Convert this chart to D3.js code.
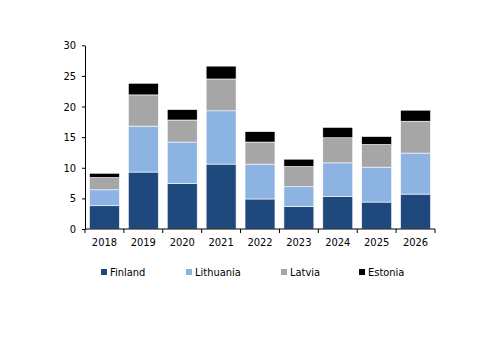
<!DOCTYPE html>
<html>
<head>
<meta charset="utf-8">
<script src="https://cdn.jsdelivr.net/npm/d3@7"></script>
<style>
body{margin:0;background:#fff;}
svg text{font-family:"DejaVu Sans Condensed","DejaVu Sans",sans-serif;font-size:11px;fill:#000;}
</style>
</head>
<body>
<div id="plot"></div>
<script>
// categories and series (segment heights)
var years = ['2018','2019','2020','2021','2022','2023','2024','2025','2026'];
var finland   = [3.8, 9.3, 7.4, 10.6, 4.9, 3.7, 5.3, 4.4, 5.7];
var lithuania = [2.6, 7.5, 6.8, 8.7, 5.7, 3.2, 5.5, 5.7, 6.7];
var latvia    = [2.0, 5.1, 3.6, 5.2, 3.6, 3.3, 4.1, 3.7, 5.2];
var estonia   = [0.7, 1.9, 1.7, 2.1, 1.7, 1.2, 1.7, 1.3, 1.8];
var seriesNames = ['Finland','Lithuania','Latvia','Estonia'];
var yTicks = [0,5,10,15,20,25,30];

var colors = {Finland:'#1f497d', Lithuania:'#8db3e2', Latvia:'#a6a6a6', Estonia:'#000000'};

var W = 500, H = 353;
var margin = {t:45.3, r:65, b:124, l:85};
var width = W-margin.l-margin.r,
	height = H-margin.t-margin.b;

var svg = d3.select('#plot')
	.append('svg')
	.attr('width',W)
	.attr('height',H);

var plot = svg.append('g')
	.attr('transform','translate('+margin.l+','+margin.t+')');

// build table rows for the stack
var rows = years.map(function(y,i){
	return {year:y, Finland:finland[i], Lithuania:lithuania[i], Latvia:latvia[i], Estonia:estonia[i]};
});
var stacked = d3.stack().keys(seriesNames)(rows);

var x = d3.scaleBand().domain(years).range([0,width]).paddingInner(0.23).paddingOuter(0.115);
var y = d3.scaleLinear().domain([0,30]).range([height,0]);

stacked.forEach(function(layer){
	plot.append('g')
		.selectAll('rect')
		.data(layer)
		.enter()
		.append('rect')
		.attr('x',function(d){return x(d.data.year);})
		.attr('y',function(d){return y(d[1]);})
		.attr('width',x.bandwidth())
		.attr('height',function(d){return y(d[0])-y(d[1]);})
		.style('fill',colors[layer.key])
		.style('stroke','#ffffff')
		.style('stroke-width',0.6);
});

// y axis
var yAxis = plot.append('g')
	.call(d3.axisLeft(y).tickValues(yTicks).tickSize(3).tickSizeOuter(0).tickPadding(6));
yAxis.select('.domain').attr('stroke','#000');
yAxis.selectAll('text').style('font-family','"DejaVu Sans Condensed","DejaVu Sans",sans-serif').style('font-size','11px');

// x axis: ticks sit on the category boundaries
var xAxis = plot.append('g')
	.attr('transform','translate(0,'+height+')');
xAxis.append('line')
	.attr('x1',0).attr('x2',width)
	.attr('stroke','#000');
var step = x.step();
d3.range(years.length+1).forEach(function(i){
	var bx = i*step;
	xAxis.append('line')
		.attr('x1',bx).attr('x2',bx)
		.attr('y1',0).attr('y2',4)
		.attr('stroke','#000');
});
xAxis.selectAll('text.yr')
	.data(years)
	.enter()
	.append('text')
	.attr('class','yr')
	.attr('x',function(d){return x(d)+x.bandwidth()/2;})
	.attr('y',17)
	.attr('text-anchor','middle')
	.text(function(d){return d;});

// legend
var legendX = [101,186,281,359];
var legend = svg.append('g').attr('transform','translate(0,272)');
seriesNames.forEach(function(name,i){
	legend.append('rect')
		.attr('x',legendX[i]).attr('y',-3)
		.attr('width',6).attr('height',6)
		.style('fill',colors[name]);
	legend.append('text')
		.attr('x',legendX[i]+9)
		.attr('y',4)
		.text(name);
});
</script>
</body>
</html>
